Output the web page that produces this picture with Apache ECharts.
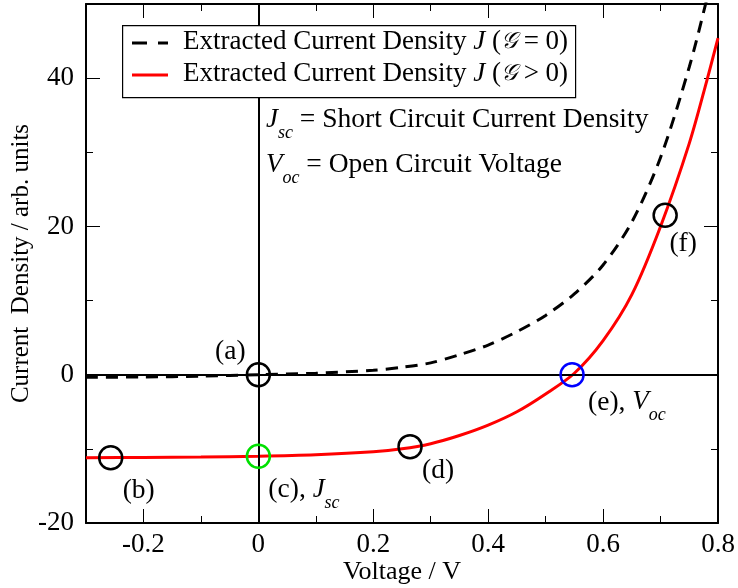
<!DOCTYPE html>
<html>
<head>
<meta charset="utf-8">
<script src="https://cdn.jsdelivr.net/npm/echarts@6/dist/echarts.min.js"></script>
<style>
  html, body { margin: 0; padding: 0; background: #fff; }
  #chart { width: 738px; height: 588px; }
</style>
</head>
<body>
<div id="chart"></div>
<script>
(function() {
	// values
	var voltage = [-0.3, -0.2, -0.1, 0, 0.1, 0.2, 0.25, 0.3, 0.35, 0.4, 0.45, 0.5, 0.55, 0.6, 0.65, 0.7, 0.75, 0.78, 0.8];
	var jDark  = [-0.35, -0.3, -0.2, 0, 0.2, 0.6, 1.0, 1.6, 2.7, 4.0, 5.8, 8.0, 10.9, 14.8, 20.6, 29.3, 41.5, 50.5, 57];
	var jLight = [-11.2, -11.15, -11.1, -11.0, -10.8, -10.4, -10.0, -9.3, -8.2, -6.8, -5.0, -2.6, 0.2, 4.6, 10.8, 20.0, 31.2, 39.5, 45.4];

	// marked points (a)..(f)
	var markV = [0, -0.257, 0, 0.264, 0.546, 0.708];
	var markJ = [0, -11.2, -11.0, -9.7, 0, 21.5];
	var markText = ['{n|(a)}', '{n|(b)}', '{n|(c), }{i|J}{s|sc}', '{n|(d)}', '{n|(e), }{i|V}{s|oc}', '{n|(f)}'];
	var markColor = ['#000', '#000', '#00e000', '#000', '#0000ff', '#000'];

	var xMajor = [-0.2, 0, 0.2, 0.4, 0.6, 0.8];
	var xMinor = [-0.1, 0.1, 0.3, 0.5, 0.7];
	var yMajor = [-20, 0, 20, 40];
	var yMinor = [-10, 10, 30];

	var font = 'Liberation Serif';
	var subRich = {
		i: {fontFamily: font, fontSize: 27, fontStyle: 'italic', color: '#000', verticalAlign: 'top', lineHeight: 30},
		s: {fontFamily: font, fontSize: 18, fontStyle: 'italic', color: '#000', verticalAlign: 'top', padding: [18, 0, 0, 0]},
		n: {fontFamily: font, fontSize: 27.5, color: '#000', verticalAlign: 'top', lineHeight: 30}
	};
	var legRich = {
		n: {fontFamily: font, fontSize: 27, color: '#000'},
		i: {fontFamily: font, fontSize: 27, fontStyle: 'italic', color: '#000'},
		g: {fontFamily: font, fontSize: 23, fontStyle: 'italic', color: '#000'}
	};

	function pair(xs, ys) {
		return xs.map(function(x, k) { return [x, ys[k]]; });
	}

	// labels every 0.2 V, ticks drawn from the lists above
	function xLabel(v) {
		var t = Math.round(v * 10);
		if (t % 2 !== 0) return '';
		return t === 0 ? '0' : (t / 10).toFixed(1);
	}
	function yLabel(v) {
		var t = Math.round(v);
		return (t % 20 === 0 && t < 50) ? String(t) : '';
	}

	function xAx(pos, ticks, len, line, label) {
		return {
			type: 'value', min: -0.3, max: 0.8, interval: 0.1, position: pos,
			axisLine: {show: line, onZero: false, lineStyle: {color: '#000', width: 2}},
			axisTick: {show: true, inside: true, length: len, customValues: ticks, lineStyle: {color: '#000', width: 1}},
			axisLabel: label ? {
				color: '#000', fontFamily: font, fontSize: 27, margin: 8, formatter: xLabel
			} : {show: false},
			splitLine: {show: false}
		};
	}
	function yAx(pos, ticks, len, line, label) {
		return {
			type: 'value', min: -20, max: 50, interval: 10, position: pos,
			axisLine: {show: line, onZero: false, lineStyle: {color: '#000', width: 2}},
			axisTick: {show: true, inside: true, length: len, customValues: ticks, lineStyle: {color: '#000', width: 1}},
			axisLabel: label ? {
				color: '#000', fontFamily: font, fontSize: 27, margin: 12, formatter: yLabel
			} : {show: false},
			splitLine: {show: false}
		};
	}

	var xAxes = [xAx('bottom', xMajor, 14, true, true), xAx('bottom', xMinor, 7, false, false),
		xAx('top', xMajor, 14, true, false), xAx('top', xMinor, 7, false, false)];
	xAxes[0].name = 'Voltage / V';
	xAxes[0].nameLocation = 'middle';
	xAxes[0].nameGap = 36;
	xAxes[0].nameMoveOverlap = false;
	xAxes[0].nameTextStyle = {color: '#000', fontFamily: font, fontSize: 26};

	var yAxes = [yAx('left', yMajor, 14, true, true), yAx('left', yMinor, 7, false, false),
		yAx('right', yMajor, 14, true, false), yAx('right', yMinor, 7, false, false)];
	yAxes[0].name = 'Current  Density / arb. units';
	yAxes[0].nameLocation = 'middle';
	yAxes[0].nameGap = 52;
	yAxes[0].nameMoveOverlap = false;
	yAxes[0].nameTextStyle = {color: '#000', fontFamily: font, fontSize: 25};

	var myChart = echarts.init(document.getElementById('chart'));
	var option = {
		animation: false,
		backgroundColor: '#fff',
		textStyle: {fontFamily: font, color: '#000'},
		grid: {left: 86, right: 20, top: 4, bottom: 65, containLabel: false, outerBoundsMode: 'none'},
		xAxis: xAxes,
		yAxis: yAxes,
		graphic: [
			// legend box
			{type: 'rect', left: 122, top: 25, z: 20, shape: {width: 453, height: 72},
				style: {fill: '#fff', stroke: '#000', lineWidth: 1.2}},
			{type: 'line', z: 21, shape: {x1: 132, y1: 43, x2: 168, y2: 43},
				style: {stroke: '#000', lineWidth: 3, lineDash: [15, 11]}},
			{type: 'line', z: 21, shape: {x1: 132, y1: 75, x2: 168, y2: 75},
				style: {stroke: '#ff0000', lineWidth: 3}},
			{type: 'text', left: 183, top: 28, z: 21,
				style: {text: '{n|Extracted Current Density }{i|J}{n| (}{g|\uD835\uDCA2}{n| = 0)}', rich: legRich}},
			{type: 'text', left: 183, top: 60, z: 21,
				style: {text: '{n|Extracted Current Density }{i|J}{n| (}{g|\uD835\uDCA2}{n| > 0)}', rich: legRich}},
			// definitions
			{type: 'text', left: 266, top: 106, z: 10,
				style: {text: '{i|J}{s|sc}{n| = Short Circuit Current Density}', rich: subRich}},
			{type: 'text', left: 266, top: 151, z: 10,
				style: {text: '{i|V}{s|oc}{n| = Open Circuit Voltage}', rich: subRich}}
		],
		series: [{
			name: 'dark',
			type: 'line',
			data: pair(voltage, jDark),
			smooth: 0.3,
			symbol: 'none',
			lineStyle: {color: '#000', width: 3, type: [12, 8]},
			z: 3,
			markLine: {
				silent: true,
				symbol: ['none', 'none'],
				label: {show: false},
				lineStyle: {color: '#000', width: 2, type: 'solid'},
				data: [{xAxis: 0}, {yAxis: 0}]
			}
		}, {
			name: 'light',
			type: 'line',
			data: pair(voltage, jLight),
			smooth: 0.3,
			symbol: 'none',
			lineStyle: {color: '#ff0000', width: 3},
			z: 4
		}, {
			name: 'marks',
			type: 'scatter',
			symbol: 'circle',
			symbolSize: 23,
			z: 5,
			data: markV.map(function(v, k) {
				var offs = [[-28, -22], [28, 34], [10, 38], [28, 25], [16, 32], [18, 29]];
				return {
					value: [v, markJ[k]],
					itemStyle: {color: 'rgba(0,0,0,0)', borderColor: markColor[k], borderWidth: 2.5, opacity: 1},
					label: {
						show: true, position: 'inside',
						align: (k === 2 || k === 4) ? 'left' : 'center',
						offset: offs[k],
						formatter: markText[k],
						rich: subRich
					}
				};
			})
		}]
	};
	myChart.setOption(option);
}).call(this);
</script>
</body>
</html>
